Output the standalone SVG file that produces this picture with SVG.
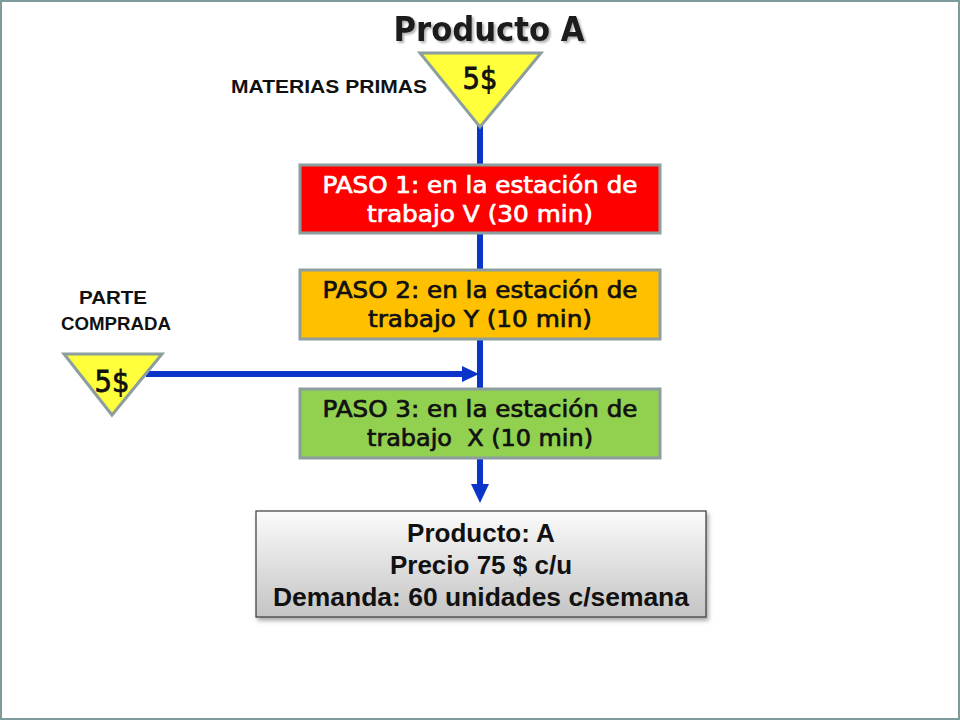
<svg xmlns="http://www.w3.org/2000/svg" width="960" height="720" viewBox="0 0 960 720">
<style>
.lbl{font-family:"Liberation Sans",Arial,sans-serif;font-weight:bold;font-size:19px;fill:#111;text-anchor:middle}
.step{font-family:"DejaVu Sans","Noto Sans",sans-serif;font-size:23px;text-anchor:middle;white-space:pre;stroke-width:0.7}
.w{fill:#fff;stroke:#fff}
.k{fill:#111;stroke:#111}
.box{stroke:#8c9e9e;stroke-width:3}
.tri{fill:#ffff3c;stroke:#8c9e9e;stroke-width:3;stroke-linejoin:miter}
.cash{font-family:"DejaVu Sans","Noto Sans",sans-serif;font-size:31px;fill:#111;stroke:#111;stroke-width:0.8;text-anchor:middle}
.conn{stroke:#0a35c8;stroke-width:6;fill:none}
.head{fill:#0a35c8}
.prod{font-family:"Liberation Sans",Arial,sans-serif;font-weight:bold;font-size:26px;fill:#111;text-anchor:middle}
</style>
<defs>
<linearGradient id="g" x1="0" y1="0" x2="0" y2="1">
<stop offset="0" stop-color="#fbfbfb"/>
<stop offset="1" stop-color="#c4c4c4"/>
</linearGradient>
<filter id="sh" x="-10%" y="-10%" width="120%" height="130%">
<feDropShadow dx="2" dy="3" stdDeviation="2" flood-color="#000" flood-opacity="0.35"/>
</filter>
<filter id="tsh" x="-10%" y="-20%" width="120%" height="150%">
<feDropShadow dx="2" dy="2" stdDeviation="1.2" flood-color="#000" flood-opacity="0.3"/>
</filter>
</defs>
<rect x="0" y="0" width="960" height="720" fill="#fff"/>
<rect x="1" y="1" width="958" height="718" fill="none" stroke="#7f9a9a" stroke-width="2"/>

<g id="title">
<text x="489" y="41" font-family="DejaVu Sans,sans-serif" font-weight="bold" font-size="33" fill="#1a1a1a" text-anchor="middle" textLength="191" lengthAdjust="spacingAndGlyphs" filter="url(#tsh)">Producto A</text>
</g>

<g id="connectors">
<line class="conn" x1="480" y1="125" x2="480" y2="486"/>
<polygon class="head" points="471,484 489,484 480,503"/>
<line class="conn" x1="146" y1="374" x2="464" y2="374"/>
<polygon class="head" points="462,366 462,382 479,374"/>
</g>

<g id="materias-primas">
<text class="lbl" x="329" y="93" textLength="196" lengthAdjust="spacingAndGlyphs">MATERIAS PRIMAS</text>
<polygon class="tri" points="420,53 541,53 480,127"/>
<text class="cash" x="480" y="89" textLength="35" lengthAdjust="spacingAndGlyphs">5$</text>
</g>

<g id="parte-comprada">
<text class="lbl" x="113" y="304" textLength="68" lengthAdjust="spacingAndGlyphs">PARTE</text>
<text class="lbl" x="116" y="330" textLength="110" lengthAdjust="spacingAndGlyphs">COMPRADA</text>
<polygon class="tri" points="64,354 162,354 112,415"/>
<text class="cash" x="112" y="392" textLength="35" lengthAdjust="spacingAndGlyphs">5$</text>
</g>

<g id="paso1">
<rect class="box" x="300" y="165" width="360" height="68" fill="#ff0000"/>
<text class="step w" x="480" y="193" textLength="315" lengthAdjust="spacingAndGlyphs">PASO 1: en la estación de</text>
<text class="step w" x="480" y="222" textLength="226" lengthAdjust="spacingAndGlyphs">trabajo V (30 min)</text>
</g>

<g id="paso2">
<rect class="box" x="300" y="270" width="360" height="69" fill="#ffc000"/>
<text class="step k" x="480" y="298" textLength="315" lengthAdjust="spacingAndGlyphs">PASO 2: en la estación de</text>
<text class="step k" x="480" y="327" textLength="224" lengthAdjust="spacingAndGlyphs">trabajo Y (10 min)</text>
</g>

<g id="paso3">
<rect class="box" x="300" y="389" width="360" height="69" fill="#92d050"/>
<text class="step k" x="480" y="417" textLength="315" lengthAdjust="spacingAndGlyphs">PASO 3: en la estación de</text>
<text class="step k" x="480" y="446" textLength="226" lengthAdjust="spacingAndGlyphs">trabajo  X (10 min)</text>
</g>

<g id="producto">
<rect x="256" y="511" width="450" height="106" fill="url(#g)" stroke="#3a3a3a" stroke-width="1.2" filter="url(#sh)"/>
<text class="prod" x="481" y="542">Producto: A</text>
<text class="prod" x="481" y="574">Precio 75 $ c/u</text>
<text class="prod" x="481" y="606" textLength="416" lengthAdjust="spacingAndGlyphs">Demanda: 60 unidades c/semana</text>
</g>
</svg>
